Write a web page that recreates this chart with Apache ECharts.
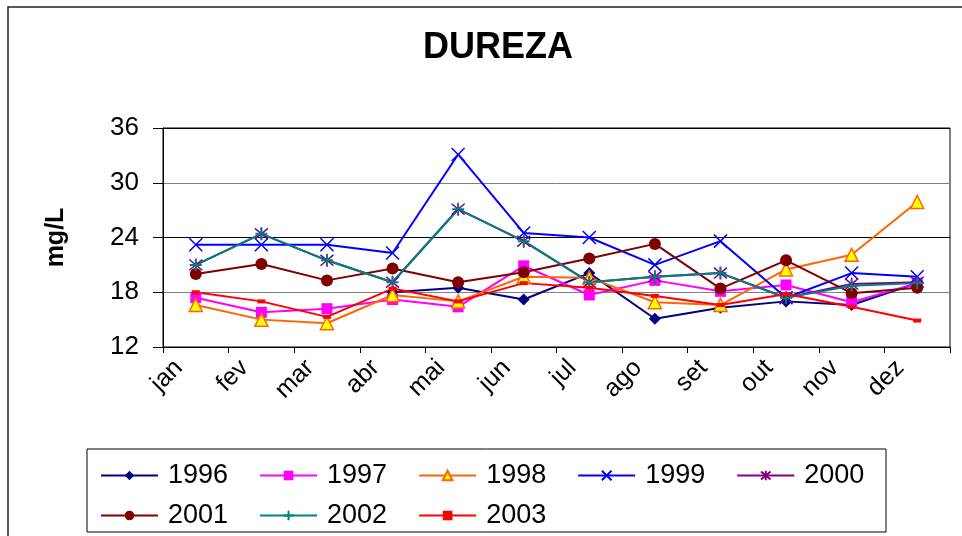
<!DOCTYPE html>
<html>
<head>
<meta charset="utf-8">
<script src="https://cdn.jsdelivr.net/npm/echarts@6/dist/echarts.min.js"></script>
<style>html,body{margin:0;padding:0;background:#fff}#c{width:962px;height:536px}</style>
</head>
<body>
<div id="c"></div>
<script>
var months = ['jan','fev','mar','abr','mai','jun','jul','ago','set','out','nov','dez'];
var yTicks = [12, 18, 24, 30, 36];
var s1996 = [null, null, null, 18.0, 18.5, 17.2, 20.1, 15.1, 16.3, 17.0, 16.6, 19.0];
var s1997 = [17.4, 15.8, 16.2, 17.2, 16.4, 20.9, 17.7, 19.3, 18.1, 18.8, 16.9, 19.0];
var s1998 = [16.6, 15.0, 14.6, 17.7, 17.0, 19.7, 19.6, 16.9, 16.6, 20.5, 22.1, 27.9];
var s1999 = [23.2, 23.2, 23.2, 22.3, 33.1, 24.5, 24.0, 21.0, 23.6, 17.4, 20.1, 19.7];
var s2000 = [21.0, 24.4, 21.5, 19.1, 27.1, 23.6, 19.1, 19.7, 20.1, 17.4, 18.9, 19.1];
var s2001 = [20.0, 21.1, 19.3, 20.6, 19.1, 20.2, 21.7, 23.3, 18.4, 21.5, 17.9, 18.5];
var s2002 = [21.0, 24.4, 21.5, 19.1, 27.1, 23.6, 19.1, 19.7, 20.1, 17.4, 18.7, 19.0];
var s2003 = [18.0, 17.0, 15.3, 18.4, 17.0, 19.0, 18.5, 17.6, 16.6, 17.8, 16.4, 14.9];

var FONT = '"Liberation Sans", Arial, sans-serif';
function mk(name, data, color, symbol, size, extra) {
  var s = {
    name: name, type: 'line', data: data, symbol: symbol, symbolSize: size,
    lineStyle: {color: color, width: 2},
    itemStyle: {color: color},
    showAllSymbol: true, connectNulls: false, animation: false
  };
  if (extra) { for (var k in extra) s[k] = extra[k]; }
  return s;
}
var X = 'path://M0,0L10,10M10,0L0,10';
var STAR = 'path://M0,0L10,10M10,0L0,10M5,-1L5,11';
var PLUS = 'path://M5,0L5,10M0,5L10,5';

var series = [
  mk('1996', s1996, '#000080', 'diamond', 12),
  mk('1997', s1997, '#FF00FF', 'rect', 11),
  mk('1998', s1998, '#FF6600', 'triangle', 13, {itemStyle: {color: '#FFFF00', borderColor: '#FF6600', borderWidth: 1.5}}),
  mk('1999', s1999, '#0000FF', X, 13, {itemStyle: {color: '#0000FF', borderColor: '#0000FF', borderWidth: 1.5}}),
  mk('2000', s2000, '#800080', STAR, 13, {itemStyle: {color: '#800080', borderColor: '#800080', borderWidth: 1.5}}),
  mk('2001', s2001, '#800000', 'circle', 12),
  mk('2002', s2002, '#008080', PLUS, 12, {itemStyle: {color: '#008080', borderColor: '#008080', borderWidth: 2}}),
  mk('2003', s2003, '#FF0000', 'rect', [8, 4])
];

var legendCommon = {
  orient: 'horizontal', left: 95, itemWidth: 57, itemHeight: 12, itemGap: 31,
  textStyle: {fontFamily: FONT, fontSize: 27, color: '#000', padding: [0, 0, 0, 5]},
  selectedMode: false
};
function legendAt(top, data) {
  var o = {}; for (var k in legendCommon) o[k] = legendCommon[k];
  o.top = top; o.data = data; return o;
}

var chart = echarts.init(document.getElementById('c'), null, {renderer: 'canvas'});
chart.setOption({
  animation: false,
  backgroundColor: '#fff',
  title: {
    text: 'DUREZA', left: 493, top: 25, textAlign: 'center',
    textStyle: {fontFamily: FONT, fontSize: 36, fontWeight: 'bold', color: '#000'}
  },
  graphic: [
    {type: 'rect', shape: {x: 8, y: 7, width: 1000, height: 600}, style: {fill: 'none', stroke: '#222', lineWidth: 1.5}, silent: true, z: -1},
    {type: 'rect', shape: {x: 87, y: 449, width: 799, height: 83}, style: {fill: 'none', stroke: '#000', lineWidth: 1}, silent: true}
  ],
  legend: [
    legendAt(457, ['1996', '1997', '1998', '1999', '2000']),
    legendAt(497, ['2001', '2002', '2003'])
  ],
  grid: {left: 163, right: 12, top: 128, bottom: 189, show: true, borderColor: '#000', borderWidth: 1, backgroundColor: 'transparent'},
  xAxis: {
    type: 'category', data: months, boundaryGap: true,
    axisLine: {lineStyle: {color: '#000', width: 1}},
    axisTick: {show: true, length: 6, lineStyle: {color: '#000'}},
    axisLabel: {rotate: 45, fontFamily: FONT, fontSize: 25, color: '#000', margin: 0, interval: 0, padding: [0, 24, 0, 0]}
  },
  yAxis: {
    type: 'value', min: yTicks[0], max: yTicks[yTicks.length - 1], interval: 6,
    name: 'mg/L', nameLocation: 'middle', nameRotate: 90, nameGap: 94,
    nameTextStyle: {fontFamily: FONT, fontSize: 25, fontWeight: 'bold', color: '#000'},
    axisLine: {show: true, lineStyle: {color: '#000', width: 1}},
    axisTick: {show: true, length: 10, lineStyle: {color: '#000'}},
    axisLabel: {fontFamily: FONT, fontSize: 26, color: '#000', margin: 24},
    splitLine: {show: true, lineStyle: {color: ['#000', '#808080', '#000', '#808080', '#000'], width: 1}}
  },
  series: series
});
</script>
</body>
</html>
